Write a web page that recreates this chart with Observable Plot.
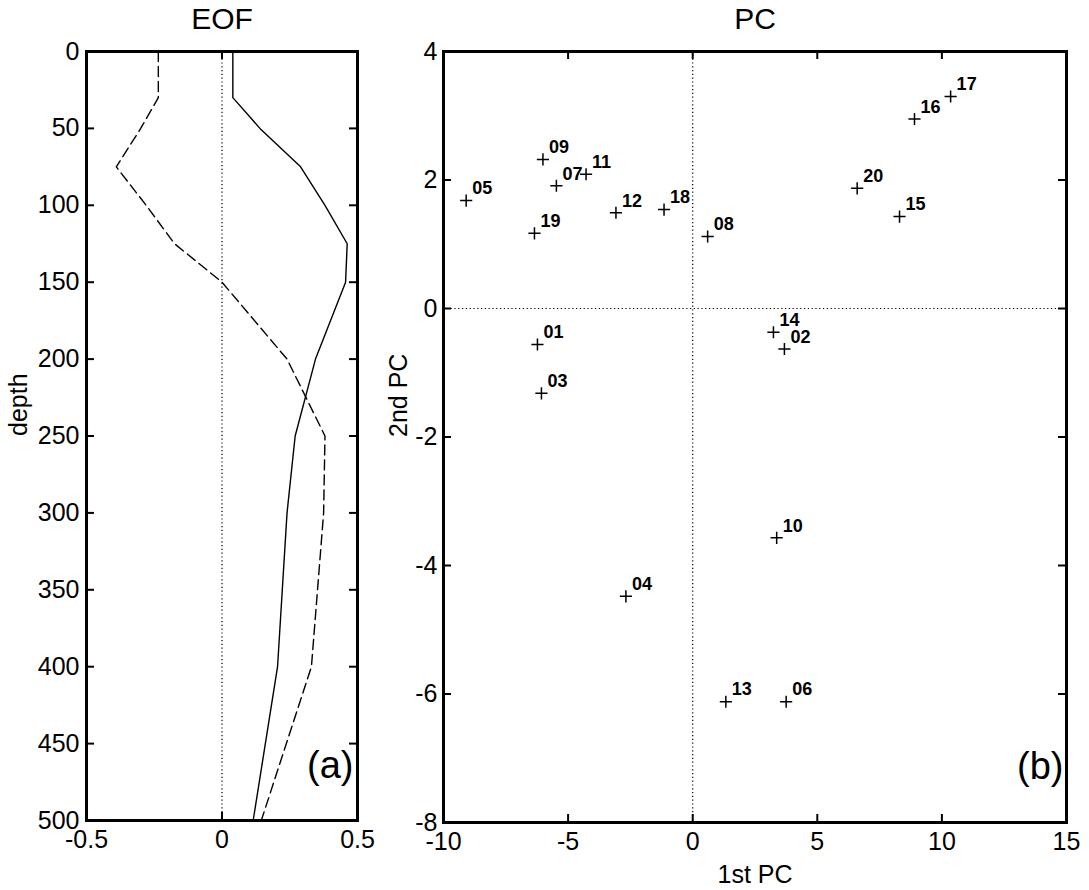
<!DOCTYPE html>
<html><head><meta charset="utf-8">
<script src="https://cdn.jsdelivr.net/npm/d3@7"></script>
<script src="https://cdn.jsdelivr.net/npm/@observablehq/plot@0.6"></script>
<style>
body{margin:0;background:#fff;}
#wrap{display:flex;width:1089px;height:890px;overflow:hidden;}
svg{display:block;overflow:visible}
</style></head><body><div id="wrap"></div>
<script>
// ---- EOF panel data ----
const depth = [0, 10, 20, 30, 50, 75, 100, 125, 150, 200, 250, 300, 400, 500];
const eof1  = [0.04, 0.04, 0.04, 0.04, 0.14, 0.29, 0.38, 0.462, 0.456, 0.345, 0.27, 0.24, 0.205, 0.115];
const eof2  = [-0.235, -0.235, -0.235, -0.235, -0.30, -0.39, -0.28, -0.175, 0.0, 0.24, 0.38, 0.375, 0.33, 0.145];
const depthTicks = [0, 50, 100, 150, 200, 250, 300, 350, 400, 450, 500];
const eofTicks = [-0.5, 0, 0.5];

// ---- PC panel data ----
const ids = ["01","02","03","04","05","06","07","08","09","10","11","12","13","14","15","16","17","18","19","20"];
const pc1 = [-6.23, 3.68, -6.07, -2.68, -9.09, 3.75, -5.47, 0.6, -6.01, 3.37, -4.28, -3.08, 1.33, 3.24, 8.3, 8.9, 10.35, -1.15, -6.35, 6.6];
const pc2 = [-0.56, -0.63, -1.32, -4.48, 1.68, -6.12, 1.91, 1.12, 2.32, -3.57, 2.09, 1.49, -6.12, -0.37, 1.43, 2.95, 3.30, 1.54, 1.17, 1.87];
const pc1Ticks = [-10, -5, 0, 5, 10, 15];
const pc2Ticks = [-8, -6, -4, -2, 0, 2, 4];

const FONT = "'Liberation Sans', Arial, Helvetica, sans-serif";
const fmt = d => String(d);

function inwardTicks(xt, yt, fw, fh, len) {
  return [
    Plot.tickY(yt, {y: d => d, insetRight: fw - len, strokeWidth: 2}),
    Plot.tickY(yt, {y: d => d, insetLeft: fw - len, strokeWidth: 2}),
    Plot.tickX(xt, {x: d => d, insetBottom: fh - len, strokeWidth: 2}),
    Plot.tickX(xt, {x: d => d, insetTop: fh - len, strokeWidth: 2})
  ];
}

// Left panel
{
  const W = 380, H = 890, mL = 86, mR = 23, mT = 51, mB = 70;
  const fw = W - mL - mR, fh = H - mT - mB;
  const eofRows = depth.map((d, i) => ({depth: d, e1: eof1[i], e2: eof2[i]}));
  const chart = Plot.plot({
    width: W, height: H, marginLeft: mL, marginRight: mR, marginTop: mT, marginBottom: mB,
    style: {fontFamily: FONT, background: "white", color: "black"},
    x: {domain: [-0.5, 0.5]},
    y: {domain: [0, 500], reverse: true},
    marks: [
      Plot.ruleX([0], {strokeDasharray: "1.2,2.6", strokeWidth: 1.2}),
      Plot.line(eofRows, {x: "e1", y: "depth", stroke: "black", strokeWidth: 1.4}),
      Plot.line(eofRows, {x: "e2", y: "depth", stroke: "black", strokeWidth: 1.4, strokeDasharray: "10,5"}),
      ...inwardTicks(eofTicks, depthTicks, fw, fh, 8),
      Plot.frame({strokeWidth: 3}),
      Plot.axisX(eofTicks, {tickSize: 0, tickPadding: 10, fontSize: 25, tickFormat: fmt, label: null}),
      Plot.axisY(depthTicks, {tickSize: 0, tickPadding: 7, fontSize: 25, tickFormat: fmt, label: null}),
      Plot.text(["EOF"], {text: d => d, frameAnchor: "top", dy: -32, fontSize: 30, lineAnchor: "middle"}),
      Plot.text(["depth"], {text: d => d, frameAnchor: "left", dx: -68, rotate: -90, fontSize: 25, lineAnchor: "middle"}),
      Plot.text(["(a)"], {text: d => d, frameAnchor: "bottom-right", dx: -4, dy: -55, fontSize: 38, textAnchor: "end", lineAnchor: "middle"})
    ]
  });
  document.getElementById("wrap").append(chart);
}

// Right panel
{
  const W = 709, H = 890, mL = 63, mR = 23, mT = 51, mB = 68;
  const fw = W - mL - mR, fh = H - mT - mB;
  const pts = ids.map((id, i) => ({id, x: pc1[i], y: pc2[i]}));
  const chart = Plot.plot({
    width: W, height: H, marginLeft: mL, marginRight: mR, marginTop: mT, marginBottom: mB,
    style: {fontFamily: FONT, background: "white", color: "black"},
    x: {domain: [-10, 15]},
    y: {domain: [-8, 4]},
    marks: [
      Plot.ruleX([0], {strokeDasharray: "1.2,2.6", strokeWidth: 1.2}),
      Plot.ruleY([0], {strokeDasharray: "1.2,2.6", strokeWidth: 1.2}),
      Plot.dot(pts, {x: "x", y: "y", symbol: "plus", r: 4, stroke: "black", strokeWidth: 1.5}),
      Plot.text(pts, {x: "x", y: "y", text: "id", dx: 6, dy: -12, textAnchor: "start", fontSize: 18, fontWeight: "bold", lineAnchor: "middle"}),
      ...inwardTicks(pc1Ticks, pc2Ticks, fw, fh, 8),
      Plot.frame({strokeWidth: 3}),
      Plot.axisX(pc1Ticks, {tickSize: 0, tickPadding: 10, fontSize: 25, tickFormat: fmt, label: null}),
      Plot.axisY(pc2Ticks, {tickSize: 0, tickPadding: 6, fontSize: 25, tickFormat: fmt, label: null}),
      Plot.text(["PC"], {text: d => d, frameAnchor: "top", dy: -32, fontSize: 30, lineAnchor: "middle"}),
      Plot.text(["2nd PC"], {text: d => d, frameAnchor: "left", dx: -45, rotate: -90, fontSize: 25, lineAnchor: "middle"}),
      Plot.text(["1st PC"], {text: d => d, frameAnchor: "bottom", dy: 52, fontSize: 25, lineAnchor: "middle"}),
      Plot.text(["(b)"], {text: d => d, frameAnchor: "bottom-right", dx: -3, dy: -56, fontSize: 38, textAnchor: "end", lineAnchor: "middle"})
    ]
  });
  document.getElementById("wrap").append(chart);
}
</script>
</body></html>
